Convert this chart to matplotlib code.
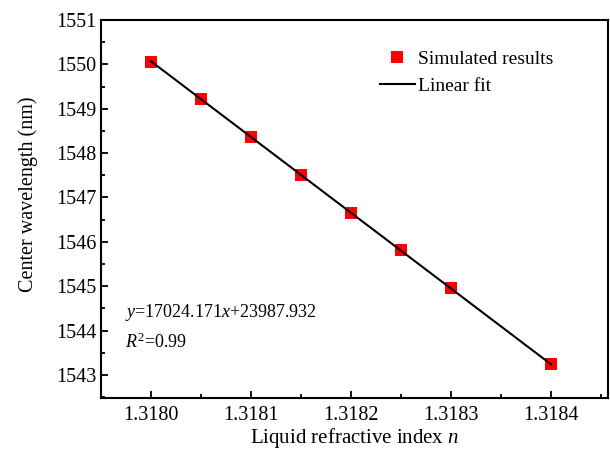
import matplotlib
matplotlib.use('Agg')
import matplotlib.pyplot as plt
from matplotlib.ticker import MultipleLocator, FormatStrFormatter

# values
refractive_index = [1.3180, 1.31805, 1.3181, 1.31815, 1.3182, 1.31825, 1.3183, 1.3184]
center_wavelength = [1550.05, 1549.21, 1548.37, 1547.51, 1546.66, 1545.82, 1544.97, 1543.24]
fit_x = [1.3180, 1.3184]
fit_y = [1550.07, 1543.24]
equation_text = r'$y$=17024.171$x$+23987.932'
r2_text = r'$R^{\mathrm{2}}$=0.99'

plt.rcParams['font.family'] = 'Liberation Serif'
plt.rcParams['mathtext.fontset'] = 'custom'
plt.rcParams['mathtext.rm'] = 'Liberation Serif'
plt.rcParams['mathtext.it'] = 'Liberation Serif:italic'

fig = plt.figure(figsize=(6.1, 4.49), dpi=100)
ax = fig.add_axes([101/610, 1-398/449, 507/610, 378/449])

ax.plot(refractive_index, center_wavelength, 's', color='#ff0000', markersize=8,
        markeredgewidth=0, label='Simulated results', zorder=2)
ax.plot(fit_x, fit_y, '-', color='black', linewidth=1.5, label='Linear fit', zorder=3)

ax.set_xlim(1.31795, 1.318457)
ax.set_ylim(1542.48, 1551)
ax.xaxis.set_major_locator(MultipleLocator(0.0001))
ax.xaxis.set_minor_locator(MultipleLocator(0.00005))
ax.xaxis.set_major_formatter(FormatStrFormatter('%.4f'))
ax.yaxis.set_major_locator(MultipleLocator(1))
ax.yaxis.set_minor_locator(MultipleLocator(0.5))
ax.yaxis.set_major_formatter(FormatStrFormatter('%d'))

ax.tick_params(which='both', direction='in', top=False, right=False, width=1.3)
ax.tick_params(which='major', length=5, labelsize=14.5)
ax.tick_params(axis='y', which='major', pad=3)
ax.tick_params(axis='x', which='major', pad=6)
ax.tick_params(which='minor', length=3)
for s in ax.spines.values():
    s.set_linewidth(1.5)

ax.set_xlabel('Liquid refractive index $n$', fontsize=15)
ax.set_ylabel('Center wavelength (nm)', fontsize=14.5)
ax.xaxis.set_label_coords(0.5, -0.074)
ax.yaxis.set_label_coords(-0.124, 0.54)

ax.legend(loc='upper left', bbox_to_anchor=(0.55, 0.92), frameon=False, fontsize=14,
          borderpad=0, borderaxespad=0, handlelength=1.8, handletextpad=0.15,
          labelspacing=0.5)

ax.text(0.047, 0.225, equation_text, transform=ax.transAxes, fontsize=13, va='center')
ax.text(0.047, 0.148, r2_text, transform=ax.transAxes, fontsize=13, va='center')

fig.savefig('out.png', dpi=100)
